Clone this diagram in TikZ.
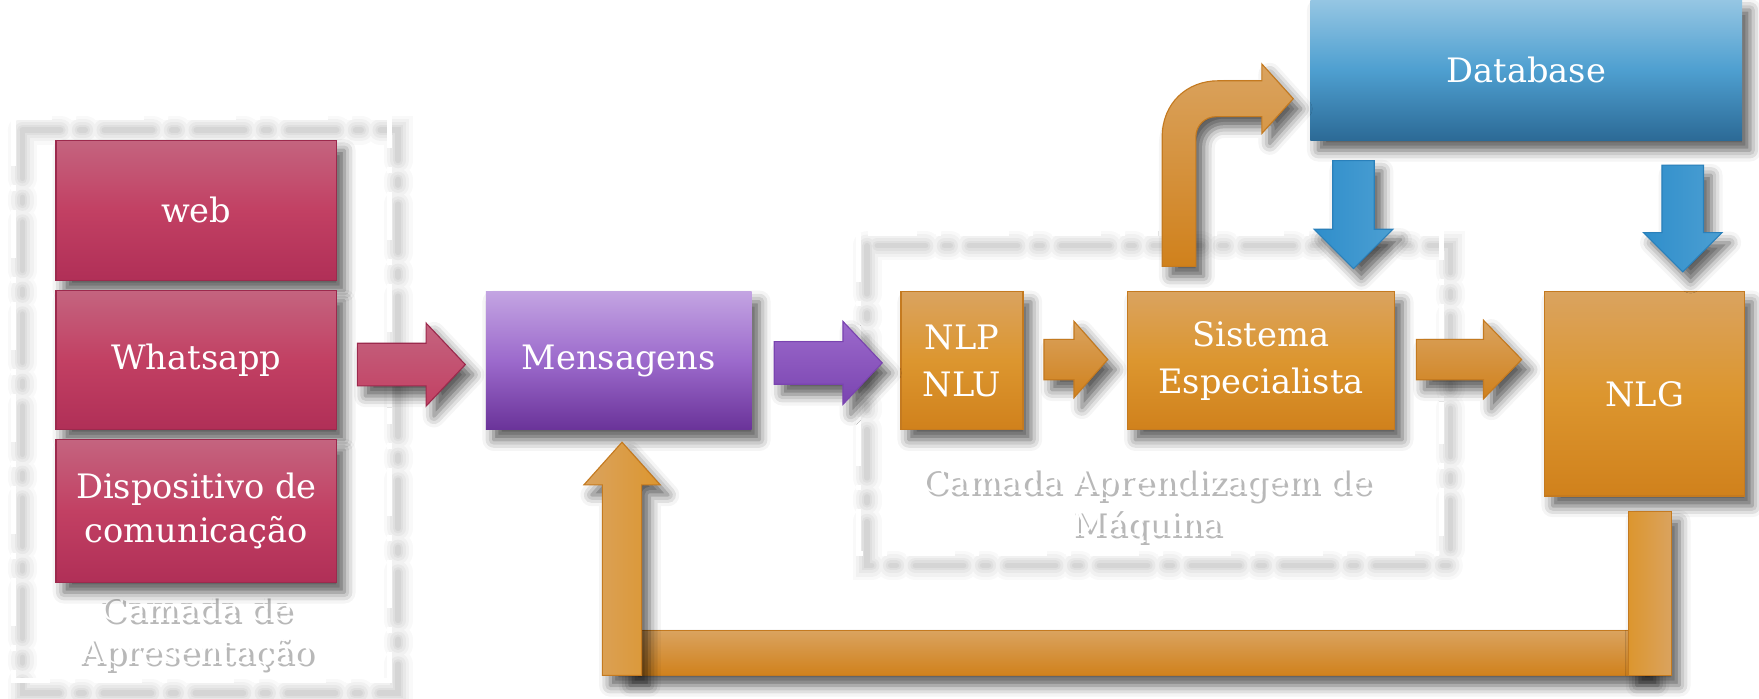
\documentclass[tikz,border=0pt]{standalone}
\usepackage{fontspec}
\setmainfont{DejaVu Serif}
\usetikzlibrary{calc,shadows.blur}
\definecolor{rdT}{HTML}{C4647F}
\definecolor{rdM}{HTML}{C24063}
\definecolor{rdB}{HTML}{B02F57}
\definecolor{rdD}{HTML}{9C2A4D}
\definecolor{ppT}{HTML}{C3A4E2}
\definecolor{ppM}{HTML}{9C6ACC}
\definecolor{ppB}{HTML}{6A3399}
\definecolor{ppD}{HTML}{7A44B0}
\definecolor{orT}{HTML}{DAA35F}
\definecolor{orM}{HTML}{DC962F}
\definecolor{orB}{HTML}{D0811C}
\definecolor{orD}{HTML}{C47A20}
\definecolor{blT}{HTML}{95C6E3}
\definecolor{blM}{HTML}{4E9FD0}
\definecolor{blB}{HTML}{2C6A96}
\definecolor{blA}{HTML}{2F8ECB}
\definecolor{blC}{HTML}{4C9FD2}
\definecolor{blD}{HTML}{2A80BA}
\newcommand\hblk[6]{\path[#1] let \p1=(#2), \p2=(#3) in
  (\x1,\y1-#4) -- (\x2-#6,\y1-#4) -- (\x2-#6,\y1-#5) -- (\x2,\y1) -- (\x2-#6,\y1+#5) -- (\x2-#6,\y1+#4) -- (\x1,\y1+#4) -- cycle;}
\newcommand\dblk[6]{\path[#1] let \p1=(#2), \p2=(#3) in
  (\x1-#4,\y1) -- (\x1-#4,\y2+#6) -- (\x1-#5,\y2+#6) -- (\x1,\y2) -- (\x1+#5,\y2+#6) -- (\x1+#4,\y2+#6) -- (\x1+#4,\y1) -- cycle;}
\newcommand\ublk[6]{\path[#1] let \p1=(#2), \p2=(#3) in
  (\x1-#4,\y1) -- (\x1-#4,\y2-#6) -- (\x1-#5,\y2-#6) -- (\x1,\y2) -- (\x1+#5,\y2-#6) -- (\x1+#4,\y2-#6) -- (\x1+#4,\y1) -- cycle;}
\tikzset{
  shd/.style={blur shadow={shadow xshift=7pt,shadow yshift=-9pt,shadow blur radius=10pt,shadow opacity=65}},
  box/.style={shd, text=white, align=center, inner sep=0pt, font=\fontsize{30}{40}\selectfont},
  redbox/.style={box, draw=rdD, line width=1.2pt, top color=rdT, bottom color=rdB, middle color=rdM},
  purplebox/.style={box, top color=ppT, bottom color=ppB, middle color=ppM},
  orangebox/.style={box, draw=orD, line width=1.2pt, top color=orT, bottom color=orB, middle color=orM},
  bluebox/.style={box, top color=blT, bottom color=blB, middle color=blM},
  redarrow/.style={shd, draw=rdD, line width=1pt, top color=rdT, bottom color=rdM},
  purplearrow/.style={shd, draw=ppD, line width=1pt, top color=ppM, bottom color=ppD},
  orangearrow/.style={shd, draw=orD, line width=1pt, top color=orT, bottom color=orB},
  bluearrow/.style={shd, draw=blD, line width=1pt, left color=blA, right color=blC},
  dashline/.style={draw=white, line width=4.5pt, dash pattern=on 43pt off 17pt on 5pt off 17pt},
  dashshadow/.style={black, line cap=round, dash pattern=on 43pt off 17pt on 5pt off 17pt},
  lbl/.style={align=center, inner sep=0pt, font=\fontsize{30}{38}\selectfont}
}
\begin{document}
\begin{tikzpicture}[x=1pt,y=-1pt]
\useasboundingbox (0,0) rectangle (1568,623);
% dashed layer frames with soft shadows
\foreach \w/\o in {26/0.025,20/0.03,14/0.035,9/0.04,5/0.045}{
  \draw[dashshadow, line width=\w pt, opacity=\o] (20,116) rectangle (355,618);
  \draw[dashshadow, line width=\w pt, opacity=\o] (773,219) rectangle (1293,504);
}
\draw[dashline] (12,105) rectangle (347,607);
\draw[dashline] (765,208) rectangle (1285,493);
% layer labels (white text with soft shadow)
\node[lbl, text=black, opacity=0.28] (layAs) at (178,567) {Camada de\\Apresentação};
\node[lbl, text=black, opacity=0.28] (layBs) at (1025,453) {Camada Aprendizagem de\\Máquina};
\node[lbl, text=white] (layA) at (175,564) {Camada de\\Apresentação};
\node[lbl, text=white] (layB) at (1022,450) {Camada Aprendizagem de\\Máquina};
% boxes
\node[redbox, minimum width=250pt, minimum height=125pt] (web) at (175,187.5) {web};
\node[redbox, minimum width=250pt, minimum height=124pt] (whats) at (175,321) {Whatsapp};
\node[redbox, minimum width=250pt, minimum height=127pt] (disp) at (175,455.5) {Dispositivo de\\comunicação};
\node[purplebox, minimum width=237pt, minimum height=123pt] (msg) at (551.5,321.5) {Mensagens};
\node[orangebox, minimum width=109pt, minimum height=123pt, font=\fontsize{30}{42}\selectfont] (nlp) at (857.5,321.5) {NLP\\NLU};
\node[orangebox, minimum width=238pt, minimum height=123pt, font=\fontsize{30}{42}\selectfont] (se) at (1124,321.5) {Sistema\\Especialista};
\node[orangebox, minimum width=178pt, minimum height=182pt] (nlg) at (1466,351) {NLG};
\node[bluebox, minimum width=385pt, minimum height=125pt] (db) at (1360.5,62.5) {Database};
% connector end points
\coordinate (r1) at ($(whats.east)+(18,4)$);
\coordinate (r2) at ($(msg.west)+(-18,4)$);
\coordinate (p1) at ($(msg.east)+(20,2)$);
\coordinate (p2) at ($(nlp.west)+(-16,2)$);
\coordinate (o1) at ($(nlp.east)+(18,-1)$);
\coordinate (o2) at ($(se.west)+(-17,-1)$);
\coordinate (o3) at ($(se.east)+(19,-1)$);
\coordinate (o4) at ($(se.east -| nlg.west)+(-20,-1)$);
\coordinate (b1s) at ($(db.south)+(-154,18)$);
\coordinate (b1t) at ($(se.north)+(82.5,-20)$);
\coordinate (b2s) at ($(db.south)+(139.5,22)$);
\coordinate (b2t) at ($(nlg.north)+(34,-17)$);
\coordinate (bs) at ($(se.north)+(-73,-22)$);
\coordinate (bt) at ($(db.west)+(-15,25.5)$);
\coordinate (fb1) at ($(nlg.south)+(5,13)$);
\coordinate (fbc) at (1471,602);
\coordinate (fbl) at (554.5,602);
\coordinate (upt) at ($(msg.south)+(3,11)$);
% horizontal block arrows
\hblk{redarrow}{r1}{r2}{19pt}{37pt}{35pt}
\hblk{purplearrow}{p1}{p2}{19pt}{37pt}{35pt}
\hblk{orangearrow}{o1}{o2}{18pt}{34pt}{30pt}
\hblk{orangearrow}{o3}{o4}{18pt}{35pt}{34pt}
% database arrows
\dblk{bluearrow}{b1s}{b1t}{18.5pt}{35pt}{35pt}
\dblk{bluearrow}{b2s}{b2t}{18.5pt}{35pt}{35pt}
% bent arrow Sistema -> Database
\path[orangearrow] let \p1=(bs), \p2=(bt) in
  (\x1-15pt,\y1) -- (\x1-15pt,\y2-34pt)
  .. controls (\x1-15pt,\y2-4pt) and (\x1+7pt,\y2+16pt) .. (\x1+35pt,\y2+16pt)
  -- (\x2-28pt,\y2+16pt) -- (\x2-28pt,\y2+31pt) -- (\x2,\y2) -- (\x2-28pt,\y2-31pt) -- (\x2-28pt,\y2-16pt)
  -- (\x1+33pt,\y2-16pt)
  .. controls (\x1+23pt,\y2-16pt) and (\x1+15pt,\y2-24pt) .. (\x1+15pt,\y2-34pt)
  -- (\x1+15pt,\y1) -- cycle;
% feedback NLG -> Mensagens
\path[shd, draw=orD, line width=1pt, top color=orT, bottom color=orB] let \p1=(fbl), \p2=(fbc) in
  (\x1,\y1) rectangle (\x2,\y1+40pt);
\path[shd, draw=orD, line width=1pt, left color=orM, right color=orT] let \p1=(fb1), \p2=(fbc) in
  (\x1-19pt,\y1) rectangle (\x1+19pt,\y2);
\ublk{shd, draw=orD, line width=1pt, left color=orT, right color=orM}{fbl}{upt}{17.5pt}{34pt}{38pt}
\end{tikzpicture}
\end{document}
